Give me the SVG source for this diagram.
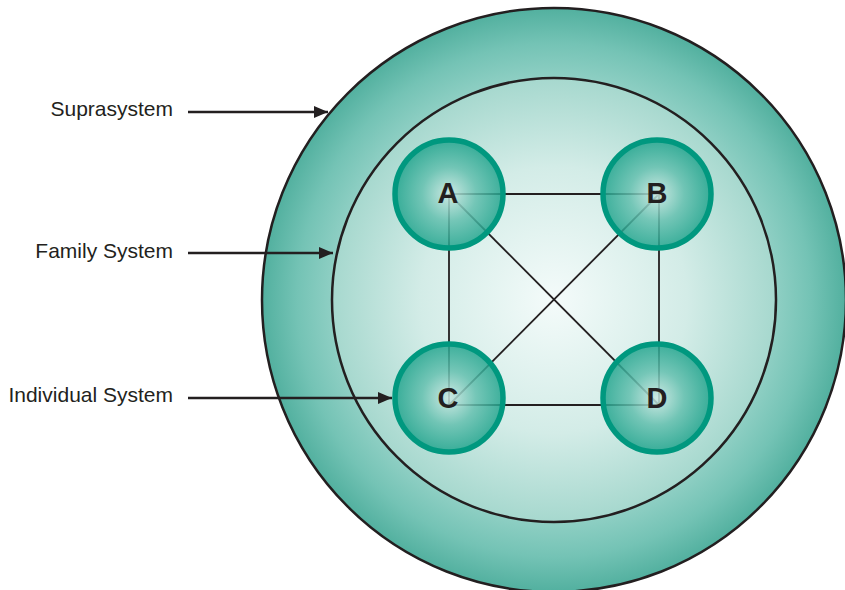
<svg xmlns="http://www.w3.org/2000/svg" width="845" height="590" viewBox="0 0 845 590">
  <style>
    .label { font-family: "Liberation Sans", Arial, sans-serif; font-size: 21px; fill: #231f20; }
    .node-label { font-family: "Liberation Sans", Arial, sans-serif; font-size: 29px; font-weight: bold; fill: #231f20; text-anchor: middle; }
    .ring { stroke: #231f20; stroke-width: 2.5; }
    .member { fill: url(#memberGrad); fill-opacity: 0.84; stroke: #00987f; stroke-width: 5.5; }
    .link { stroke: #231f20; stroke-width: 1.8; fill: none; }
    .pointer { stroke: #231f20; stroke-width: 2.5; fill: none; marker-end: url(#arrow); }
  </style>
  <defs>
    <radialGradient id="outerGrad" cx="554" cy="300" r="292" gradientUnits="userSpaceOnUse">
      <stop offset="0.74" stop-color="#93d1c6"/>
      <stop offset="0.88" stop-color="#74c3b5"/>
      <stop offset="1" stop-color="#52b09f"/>
    </radialGradient>
    <radialGradient id="innerGrad" cx="554" cy="300" r="222" gradientUnits="userSpaceOnUse">
      <stop offset="0" stop-color="#f4fbfa"/>
      <stop offset="0.6" stop-color="#d3ece7"/>
      <stop offset="1" stop-color="#a6d8ce"/>
    </radialGradient>
    <radialGradient id="memberGrad" cx="0.5" cy="0.5" r="0.5">
      <stop offset="0" stop-color="#cde9e3"/>
      <stop offset="0.5" stop-color="#62bfae"/>
      <stop offset="1" stop-color="#1fa38c"/>
    </radialGradient>
    <marker id="arrow" viewBox="0 0 14 12" refX="14" refY="6" markerWidth="14" markerHeight="12" markerUnits="userSpaceOnUse" orient="auto">
      <path d="M0,0 L14,6 L0,12 Z" fill="#231f20"/>
    </marker>
  </defs>

  <g id="suprasystem">
    <circle cx="554" cy="300" r="292" fill="url(#outerGrad)" class="ring"/>
  </g>
  <g id="family-system">
    <circle cx="554" cy="300" r="222" fill="url(#innerGrad)" class="ring"/>
  </g>

  <g id="connectors">
    <line class="link" x1="449" y1="194" x2="659" y2="194"/>
    <line class="link" x1="449" y1="194" x2="449" y2="405"/>
    <line class="link" x1="659" y1="194" x2="659" y2="405"/>
    <line class="link" x1="449" y1="405" x2="659" y2="405"/>
    <line class="link" x1="449" y1="194" x2="659" y2="405"/>
    <line class="link" x1="449" y1="405" x2="659" y2="194"/>
    <line class="pointer" x1="188" y1="112" x2="328" y2="112"/>
    <line class="pointer" x1="188" y1="253" x2="333" y2="253"/>
    <line class="pointer" x1="188" y1="398" x2="392" y2="398"/>
  </g>

  <g id="node-A">
    <circle class="member" cx="449" cy="194" r="54"/>
    <text class="node-label" x="448" y="203">A</text>
  </g>
  <g id="node-B">
    <circle class="member" cx="657" cy="194" r="54"/>
    <text class="node-label" x="657" y="203">B</text>
  </g>
  <g id="node-C">
    <circle class="member" cx="449" cy="398" r="54"/>
    <text class="node-label" x="448" y="408">C</text>
  </g>
  <g id="node-D">
    <circle class="member" cx="657" cy="398" r="54"/>
    <text class="node-label" x="657" y="408">D</text>
  </g>

  <g id="labels">
    <text class="label" x="173" y="116" text-anchor="end">Suprasystem</text>
    <text class="label" x="173" y="258" text-anchor="end">Family System</text>
    <text class="label" x="173" y="402" text-anchor="end">Individual System</text>
  </g>
</svg>
